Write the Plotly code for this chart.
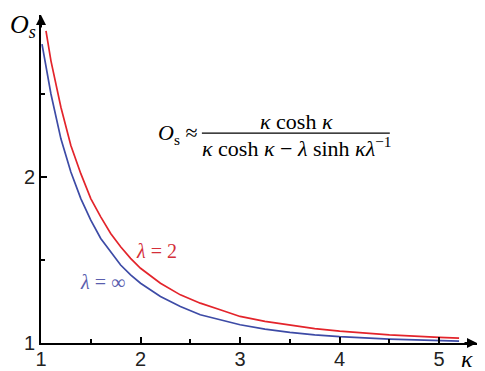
"""Stress concentration O_s versus kappa for two lambda values."""

import plotly.graph_objects as go

# values
kappa_inf = [1.01, 1.1, 1.2, 1.3, 1.4, 1.5, 1.6, 1.7, 1.8, 1.9, 2.0,
             2.2, 2.4, 2.6, 2.8, 3.0, 3.25, 3.5, 3.75, 4.0, 4.5, 5.0, 5.2]
os_inf = [2.80, 2.50, 2.23, 2.03, 1.87, 1.74, 1.63, 1.55, 1.47, 1.41, 1.36,
          1.28, 1.22, 1.17, 1.14, 1.11, 1.084, 1.064, 1.049, 1.038, 1.023, 1.014, 1.011]

kappa_2 = [1.05, 1.1, 1.2, 1.3, 1.4, 1.5, 1.6, 1.7, 1.8, 1.9, 2.0,
           2.2, 2.4, 2.6, 2.8, 3.0, 3.25, 3.5, 3.75, 4.0, 4.5, 5.0, 5.2]
os_2 = [2.88, 2.70, 2.42, 2.19, 2.02, 1.87, 1.76, 1.66, 1.58, 1.51, 1.45,
        1.36, 1.29, 1.24, 1.20, 1.16, 1.13, 1.107, 1.087, 1.071, 1.049, 1.034, 1.029]

x_ticks = [1, 2, 3, 4, 5]
y_ticks = [1, 2]

RED = "#e3242b"
BLUE = "#3d4ba6"
SERIF = "Liberation Serif, Times New Roman, serif"
SANS = "Liberation Sans, Arial, sans-serif"


def _label(fig, x, y, text, font):
    fig.add_annotation(xref="paper", yref="paper", x=x, y=y, text=text,
                       showarrow=False, xanchor="center", yanchor="middle",
                       font=font)


fig = go.Figure()
fig.add_trace(go.Scatter(x=kappa_inf, y=os_inf, mode="lines",
                         line=dict(color=BLUE, width=1.7), name="λ = ∞"))
fig.add_trace(go.Scatter(x=kappa_2, y=os_2, mode="lines",
                         line=dict(color=RED, width=1.7), name="λ = 2"))

axis_common = dict(
    showline=True, linecolor="black", linewidth=2,
    showgrid=False, zeroline=False,
    ticks="inside", ticklen=6, tickwidth=1.5, tickcolor="black",
    tickfont=dict(family=SANS, size=20, color="#222"),
)
minor_ticks = dict(dtick=0.5, tick0=1, ticks="inside", ticklen=4,
                   tickwidth=1.5, tickcolor="black", showgrid=False)
fig.update_xaxes(range=[1, 5.38], tickvals=x_ticks, minor=minor_ticks,
                 ticklabelstandoff=-3, **axis_common)
fig.update_yaxes(range=[1, 2.976], tickvals=y_ticks, minor=minor_ticks, **axis_common)

# axis arrows
fig.add_annotation(xref="paper", yref="paper", x=1.0, y=0, ax=-14, ay=0,
                   text="", showarrow=True, arrowhead=2, arrowsize=1,
                   arrowwidth=2, arrowcolor="black")
fig.add_annotation(xref="paper", yref="paper", x=0, y=1.0, ax=0, ay=14,
                   text="", showarrow=True, arrowhead=2, arrowsize=1,
                   arrowwidth=2, arrowcolor="black")

# axis titles
_label(fig, -0.042, 0.965, "<i>O</i><sub><i>s</i></sub>",
       dict(family=SERIF, size=26, color="black"))
_label(fig, 0.978, -0.048, "<i>κ</i>", dict(family=SERIF, size=24, color="black"))

# formula
formula_font = dict(family=SERIF, size=22, color="black")
_label(fig, 0.314, 0.637, "<i>O</i><sub>s</sub> ≈", formula_font)
_label(fig, 0.587, 0.676, "<i>κ</i> cosh <i>κ</i>", formula_font)
_label(fig, 0.588, 0.597,
       "<i>κ</i> cosh <i>κ</i> − <i>λ</i> sinh <i>κλ</i><sup>−1</sup>", formula_font)
fig.add_shape(type="line", xref="paper", yref="paper",
              x0=0.369, x1=0.800, y0=0.640, y1=0.640,
              line=dict(color="black", width=1.2))

# curve labels
_label(fig, 0.266, 0.280, "<i>λ</i> = 2", dict(family=SERIF, size=20, color="#d42f3a"))
_label(fig, 0.142, 0.186, "<i>λ</i> = ∞", dict(family=SERIF, size=20, color="#5a5eae"))

# page body keeps an 8px margin, so the figure is sized to fit inside the window
fig.update_layout(
    width=477, height=363,
    margin=dict(l=33, r=8, t=7, b=28, autoexpand=False),
    paper_bgcolor="white", plot_bgcolor="white",
    showlegend=False,
)

fig.write_html("out.html")
